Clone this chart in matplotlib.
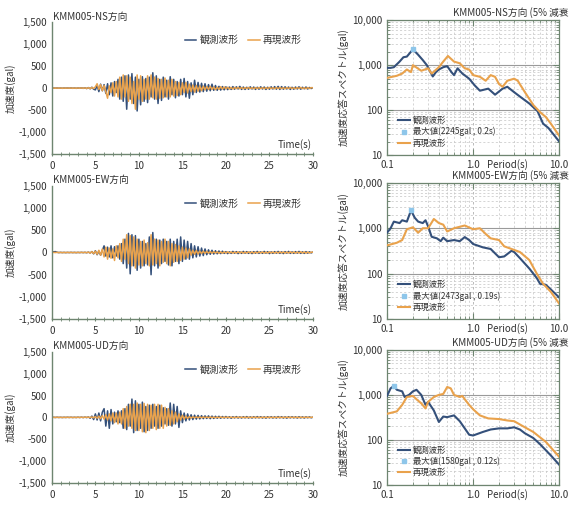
import numpy as np
import matplotlib
matplotlib.use("Agg")
import matplotlib.pyplot as plt
from matplotlib.ticker import FuncFormatter, MultipleLocator, FixedLocator, NullFormatter

plt.rcParams['font.family'] = ['Noto Sans CJK JP', 'DejaVu Sans']

# === CONFIG ===
OBS_COLOR = '#34507a'      # observed record
REP_COLOR = '#e9a24c'      # reproduced record
MAX_COLOR = '#8ec6ea'
SPINE_COLOR = '#6e8570'
TEXT_COLOR = '#333333'

DT = 0.2   # waveform sample spacing (s), starting at t = 0

# acceleration waveforms (gal)
NS_OBS = [
    0, 3, -2, 4, -3, 2, -4, 3, -2, 4,
    -3, 5, -4, 3, -5, 4, -3, 6, -5, 8,
    -10, 12, -15, 20, -25, -40, 60, -80, 90, -60,
    80, -120, 100, -150, 120, -180, 150, -100, 200, -250,
    250, -300, 280, -480, 300, -250, 330, -350, 250, -520,
    200, -380, 260, -300, 220, -330, 250, -200, 350, -250,
    280, -350, 200, -280, 250, -200, 180, -250, 260, -150,
    200, -220, 150, -180, 200, -150, 220, -200, 150, -230,
    120, -150, 180, -100, 130, -90, 110, -80, 100, -70,
    80, -60, 90, -50, 60, -50, 40, -45, 35, -40,
    30, -35, 25, -30, 35, -25, 30, -20, 40, -30,
    25, -30, 20, -25, 30, -20, 25, -30, 20, -25,
    30, -20, 25, -30, 20, -25, 30, -20, 35, -25,
    40, -30, 35, -25, 30, -20, 25, -30, 20, -25,
    25, -20, 30, -25, 20, -15, 25, -20, 15, -10, 10,
]
NS_REP = [
    0, 2, -2, 3, -2, 2, -3, 2, -2, 3,
    -2, 3, -3, 2, -3, 4, -3, 5, -4, 6,
    -8, 10, -12, 15, -10, 30, 100, -30, 80, -60,
    60, -80, -230, 50, -100, 120, -180, 150, -200, 250,
    -250, 300, -200, 280, -300, 250, -350, 150, -480, 300,
    -250, 280, -300, 200, -250, 280, -250, 300, -220, 250,
    -250, 220, -230, 200, -220, 230, -200, 180, -200, 200,
    -180, 150, -170, 130, -150, 120, -100, 130, -110, 90,
    -80, 70, -90, 60, -70, 50, -60, 45, -40, 35,
    -30, 40, -30, 25, -35, 20, -25, 30, -20, 25,
    -15, 20, -18, 15, -20, 15, -12, 18, -15, 12,
    -15, 12, -10, 15, -12, 10, -15, 12, -10, 14,
    -12, 10, -14, 12, -10, 15, -12, 10, -14, 12,
    -10, 14, -12, 10, -15, 12, -10, 14, -12, 10,
    -14, 12, -10, 15, -12, 10, -14, 12, -10, 12, 5,
]
EW_OBS = [
    20, 15, 20, 5, -2, 3, -2, 2, -3, 2,
    -2, 3, -2, 2, -3, 2, -2, 3, -2, 3,
    -5, 8, -10, 20, -30, 40, -50, 30, -60, 50,
    150, -80, 120, -100, 150, -120, 130, -80, 150, -150,
    200, -250, 300, -350, 430, -480, 400, -300, 380, -400,
    300, -350, 250, -300, 200, -280, 350, -500, 450, -300,
    300, -350, 280, -250, 300, -200, 250, -280, 300, -300,
    250, -200, 300, -250, 350, -200, 280, -150, 250, -150,
    200, -120, 150, -100, 130, -80, 100, -70, 80, -50,
    60, -40, 50, -35, 40, -30, 35, -25, 30, -20,
    20, -25, 15, -20, 25, -15, 20, -25, 15, -20,
    25, -15, 20, -20, 15, -25, 20, -15, 25, -20,
    15, -20, 25, -15, 20, -25, 15, -20, 20, -15,
    25, -20, 15, -25, 20, -15, 25, -20, 15, -20,
    20, -15, 25, -20, 15, -20, 20, -15, 15, -10, 10,
]
EW_REP = [
    0, 2, -2, 3, -2, 2, -3, 2, -2, 3,
    -2, 3, -3, 2, -3, 4, -3, 5, -4, 6,
    -5, 10, -15, 20, -25, 30, -40, 50, -60, 80,
    -100, 120, -150, 100, -130, 80, -180, 150, -120, 200,
    -200, 300, -150, 400, -250, 380, -300, 350, -350, 300,
    -280, 250, -300, 280, -250, 220, -300, 400, -280, 300,
    -250, 280, -300, 250, -220, 300, -250, 250, -300, 200,
    -220, 180, -200, 150, -180, 120, -150, 100, -120, 80,
    -60, 50, -40, 45, -35, 30, -25, 30, -20, 25,
    -15, 20, -15, 18, -12, 15, -18, 12, -15, 14,
    -12, 15, -10, 12, -14, 10, -12, 15, -10, 12,
    -14, 10, -12, 14, -10, 12, -15, 10, -12, 14,
    -10, 12, -14, 10, -12, 15, -10, 12, -14, 10,
    -12, 14, -10, 12, -15, 10, -12, 14, -10, 12,
    -14, 10, -12, 15, -10, 12, -14, 10, -12, 10, 5,
]
UD_OBS = [
    0, 2, -2, 3, -2, 2, -3, 2, -2, 3,
    -2, 3, -3, 2, -3, 4, -3, 5, -4, 6,
    -5, 10, -20, 30, -50, 80, -60, 100, -80, 120,
    200, -200, 150, -250, 180, -150, 120, -100, 150, -120,
    150, -250, 200, -280, 300, -200, 420, -350, 380, -300,
    300, -250, 350, -330, 250, -300, 280, -250, 300, -200,
    250, -250, 280, -200, 220, -150, 200, -180, 330, -200,
    300, -150, 250, -230, 150, -120, 100, -80, 80, -60,
    60, -50, 50, -40, 45, -35, 40, -30, 35, -25,
    35, -30, 30, -25, 25, -20, 25, -20, 20, -15,
    20, -15, 15, -20, 15, -12, 18, -15, 12, -15,
    15, -12, 18, -15, 12, -15, 15, -12, 18, -12,
    15, -15, 12, -18, 15, -12, 15, -15, 12, -15,
    18, -12, 15, -15, 12, -18, 15, -12, 15, -12,
    12, -15, 15, -12, 12, -15, 12, -10, 12, -10, 5,
]
UD_REP = [
    0, 2, -2, 3, -2, 2, -3, 2, -2, 3,
    -2, 3, -3, 2, -3, 4, -3, 5, -4, 6,
    0, 5, -5, 10, -10, 20, -20, 30, -30, 40,
    -40, 60, -60, 80, -80, 100, -120, 100, -150, 120,
    -150, 200, -250, 250, -200, 300, -250, 300, -300, 330,
    -300, 300, -330, 320, -350, 300, -300, 280, -250, 300,
    -280, 300, -250, 280, -250, 230, -200, 200, -180, 150,
    -150, 120, -100, 80, -60, 50, -40, 30, -25, 20,
    -15, 12, -10, 12, -8, 10, -8, 10, -6, 8,
    -6, 8, -5, 6, -8, 5, -6, 8, -5, 6,
    -5, 6, -4, 5, -6, 4, -5, 6, -4, 5,
    -4, 5, -6, 4, -5, 6, -4, 5, -6, 4,
    -5, 4, -6, 5, -4, 6, -5, 4, -6, 5,
    -4, 6, -5, 4, -5, 6, -4, 5, -4, 6,
    -5, 4, -6, 5, -4, 5, -4, 5, -4, 4, 2,
]

# 5% damped acceleration response spectra: period (s), value (gal)
NS_SP_OBS_T = [0.1, 0.11, 0.12, 0.14, 0.155, 0.17, 0.2, 0.23, 0.26, 0.29, 0.34, 0.37, 0.4, 0.45, 0.5,
               0.56, 0.6, 0.66, 0.75, 0.9, 1.05, 1.2, 1.5, 1.8, 2.2, 2.5, 3.0, 3.5, 4.5, 5.6, 6.5, 7.5, 10.0]
NS_SP_OBS_V = [870, 870, 900, 1200, 1500, 1550, 2245, 1700, 1300, 1000, 560, 700, 800, 900, 950,
               700, 600, 850, 650, 500, 350, 270, 300, 220, 300, 330, 250, 200, 140, 95, 50, 40, 20]
NS_SP_REP_T = [0.1, 0.13, 0.15, 0.17, 0.19, 0.2, 0.25, 0.3, 0.33, 0.4, 0.45, 0.51, 0.6, 0.7, 0.8,
               0.9, 1.0, 1.2, 1.4, 1.6, 1.8, 2.0, 2.2, 2.5, 3.0, 3.3, 4.0, 5.0, 6.0, 7.0, 8.0, 10.0]
NS_SP_REP_V = [520, 580, 650, 800, 700, 1000, 750, 850, 650, 900, 1200, 1600, 1200, 1100, 850,
               800, 600, 550, 450, 600, 550, 380, 330, 450, 500, 450, 250, 130, 90, 70, 50, 27]

EW_SP_OBS_T = [0.1, 0.11, 0.12, 0.14, 0.15, 0.17, 0.19, 0.21, 0.23, 0.26, 0.28, 0.3, 0.33, 0.38, 0.42,
               0.45, 0.5, 0.6, 0.7, 0.8, 0.9, 1.0, 1.3, 1.6, 2.0, 2.3, 2.8, 3.0, 3.5, 4.5, 5.5, 6.0,
               7.0, 8.0, 10.0]
EW_SP_OBS_V = [800, 1000, 1400, 1300, 1500, 1400, 2473, 1700, 1400, 1300, 1500, 1100, 650, 600, 520,
               620, 520, 550, 520, 640, 550, 450, 380, 350, 230, 240, 320, 300, 220, 130, 80, 60,
               57, 45, 30]
EW_SP_REP_T = [0.1, 0.13, 0.15, 0.17, 0.2, 0.23, 0.26, 0.3, 0.35, 0.4, 0.45, 0.5, 0.6, 0.8, 1.0,
               1.2, 1.4, 1.6, 2.0, 2.3, 2.8, 3.5, 4.5, 5.5, 6.5, 8.0, 10.0]
EW_SP_REP_V = [420, 480, 550, 950, 1050, 800, 1000, 1000, 1600, 1300, 1200, 850, 1000, 1150, 950,
               1000, 750, 600, 550, 400, 350, 300, 200, 100, 60, 40, 22]

UD_SP_OBS_T = [0.1, 0.11, 0.12, 0.13, 0.15, 0.16, 0.18, 0.2, 0.22, 0.25, 0.28, 0.3, 0.35, 0.4, 0.45,
               0.5, 0.6, 0.65, 0.7, 0.8, 0.9, 1.0, 1.3, 1.6, 2.0, 2.5, 3.0, 3.5, 4.0, 5.0, 6.0, 8.0,
               10.0]
UD_SP_OBS_V = [950, 1400, 1580, 1300, 1200, 900, 1000, 1200, 1300, 1000, 600, 700, 450, 250, 330,
               320, 350, 300, 260, 180, 130, 125, 150, 170, 180, 180, 190, 170, 140, 110, 80, 45, 28]
UD_SP_REP_T = [0.1, 0.13, 0.15, 0.17, 0.2, 0.22, 0.25, 0.28, 0.3, 0.35, 0.4, 0.45, 0.5, 0.55, 0.6,
               0.7, 0.75, 0.8, 0.9, 1.0, 1.2, 1.5, 2.0, 2.5, 3.0, 4.0, 5.0, 7.0, 10.0]
UD_SP_REP_V = [380, 430, 600, 900, 950, 800, 650, 500, 700, 900, 1000, 1050, 1500, 1400, 1000,
               900, 950, 800, 600, 480, 350, 300, 290, 270, 260, 190, 150, 90, 42]

# peak of the observed spectrum (gal, s)
NS_MAX = (2245, 0.2)
EW_MAX = (2473, 0.19)
UD_MAX = (1580, 0.12)

COMPONENTS = ['NS', 'EW', 'UD']
WAVES = {'NS': (NS_OBS, NS_REP), 'EW': (EW_OBS, EW_REP), 'UD': (UD_OBS, UD_REP)}
SPECTRA = {
    'NS': (NS_SP_OBS_T, NS_SP_OBS_V, NS_SP_REP_T, NS_SP_REP_V, NS_MAX),
    'EW': (EW_SP_OBS_T, EW_SP_OBS_V, EW_SP_REP_T, EW_SP_REP_V, EW_MAX),
    'UD': (UD_SP_OBS_T, UD_SP_OBS_V, UD_SP_REP_T, UD_SP_REP_V, UD_MAX),
}

# panel boxes in figure fractions: [left, bottom, width, height]
WAVE_BOXES = [[0.091, 0.695, 0.458, 0.261], [0.091, 0.368, 0.458, 0.264], [0.091, 0.044, 0.458, 0.259]]
SPEC_BOXES = [[0.679, 0.693, 0.302, 0.267], [0.679, 0.368, 0.302, 0.270], [0.679, 0.040, 0.302, 0.267]]


def comma_fmt(v, pos):
    return f"{int(round(v)):,}"


def plot_wave(ax, comp):
    obs, rep = WAVES[comp]
    t = np.arange(len(obs)) * DT
    ax.plot(t, obs, color=OBS_COLOR, lw=1.1, label='観測波形')
    ax.plot(t, rep, color=REP_COLOR, lw=1.1, label='再現波形')

    ax.set_xlim(0, 30)
    ax.set_ylim(-1500, 1500)
    ax.set_xticks(range(0, 31, 5))
    ax.set_yticks(range(-1500, 1501, 500))
    ax.yaxis.set_major_formatter(FuncFormatter(comma_fmt))
    ax.xaxis.set_minor_locator(MultipleLocator(1))
    ax.tick_params(axis='x', which='both', direction='inout', length=3, colors=SPINE_COLOR,
                   labelcolor=TEXT_COLOR, labelsize=7)
    ax.tick_params(axis='y', length=0, labelsize=7, labelcolor=TEXT_COLOR)
    for side in ['top', 'right']:
        ax.spines[side].set_visible(False)
    for side in ['left', 'bottom']:
        ax.spines[side].set_color(SPINE_COLOR)
        ax.spines[side].set_linewidth(1.0)

    ax.set_ylabel('加速度(gal)', fontsize=7, color=TEXT_COLOR, labelpad=2)
    ax.text(0.005, 1.005, f'KMM005-{comp}方向', transform=ax.transAxes, fontsize=7,
            color=TEXT_COLOR, va='bottom', ha='left')
    ax.text(0.995, 0.03, 'Time(s)', transform=ax.transAxes, fontsize=7, color=TEXT_COLOR,
            ha='right', va='bottom')
    ax.legend(loc='upper right', bbox_to_anchor=(0.99, 0.97), ncol=2, frameon=False, fontsize=7,
              handlelength=1.2, handletextpad=0.3, columnspacing=1.0, labelcolor=TEXT_COLOR)


def plot_spectrum(fig, ax, comp):
    obs_t, obs_v, rep_t, rep_v, peak = SPECTRA[comp]
    ax.plot(obs_t, obs_v, color=OBS_COLOR, lw=1.5, label='観測波形', zorder=3)
    ax.plot(peak[1], peak[0], 's', color=MAX_COLOR, ms=3.5, zorder=4,
            label=f'最大値({peak[0]}gal , {peak[1]}s)', linestyle='none')
    ax.plot(rep_t, rep_v, color=REP_COLOR, lw=1.5, label='再現波形', zorder=3)

    ax.set_xscale('log')
    ax.set_yscale('log')
    ax.set_xlim(0.1, 10)
    ax.set_ylim(10, 10000)
    ax.xaxis.set_major_locator(FixedLocator([0.1, 1.0, 10.0]))
    ax.xaxis.set_major_formatter(FuncFormatter(lambda v, p: f'{v:.1f}'))
    ax.xaxis.set_minor_formatter(NullFormatter())
    ax.yaxis.set_major_locator(FixedLocator([10, 100, 1000, 10000]))
    ax.yaxis.set_major_formatter(FuncFormatter(comma_fmt))
    ax.yaxis.set_minor_formatter(NullFormatter())

    ax.grid(True, which='minor', color='#c4c4c4', lw=0.5, ls=(0, (3, 3)))
    ax.grid(True, which='major', axis='y', color='#9a9a9a', lw=0.8)
    ax.grid(True, which='major', axis='x', color='#b0b0b0', lw=0.6, ls=(0, (3, 3)))
    ax.tick_params(which='both', direction='in', colors=SPINE_COLOR, labelcolor=TEXT_COLOR,
                   labelsize=7, top=True, right=True)
    ax.tick_params(which='major', length=4)
    ax.tick_params(which='minor', length=2)
    for side in ax.spines.values():
        side.set_color(SPINE_COLOR)
        side.set_linewidth(0.9)

    ax.set_ylabel('加速度応答スペクトル(gal)', fontsize=7, color=TEXT_COLOR, labelpad=2)
    ax.text(0.70, -0.03, 'Period(s)', transform=ax.transAxes, fontsize=7, color=TEXT_COLOR,
            ha='center', va='top')

    # heading sits flush with the right edge of the sheet
    box = ax.get_position()
    fig.text(0.998, box.y1 + 0.004, f'KMM005-{comp}方向 (5% 減衰', fontsize=7,
             color=TEXT_COLOR, ha='right', va='bottom')
    ax.legend(loc='lower left', bbox_to_anchor=(0.02, 0.0), frameon=False, fontsize=6,
              handlelength=1.5, handletextpad=0.3, labelspacing=0.25, labelcolor=TEXT_COLOR)


if __name__ == '__main__':
    fig = plt.figure(figsize=(5.7, 5.05), dpi=100)
    for i, comp in enumerate(COMPONENTS):
        plot_wave(fig.add_axes(WAVE_BOXES[i]), comp)
        plot_spectrum(fig, fig.add_axes(SPEC_BOXES[i]), comp)
    fig.savefig('out.png', dpi=100)
